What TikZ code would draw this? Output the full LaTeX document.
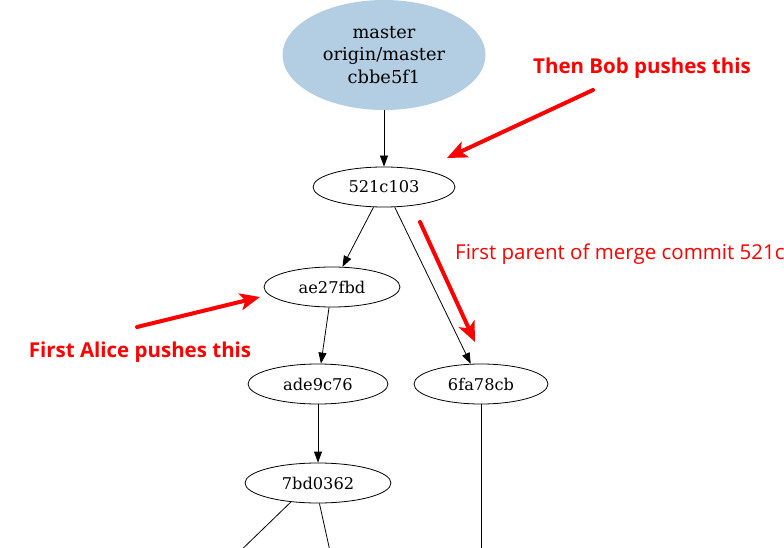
\documentclass[tikz,border=0pt]{standalone}
\usepackage{fontspec}
\setmainfont{DejaVu Serif}
\newfontfamily\notefont{Open Sans}
\usetikzlibrary{arrows.meta,shapes.geometric}
\definecolor{headblue}{HTML}{B3CDE3}
\definecolor{notered}{HTML}{FF0000}
\tikzset{
  commit/.style={draw=black, line width=0.8pt, ellipse, minimum width=142pt, minimum height=40pt, inner sep=0pt, font=\fontsize{16.2}{19}\selectfont},
  edge/.style={draw=black, line width=0.8pt, -{Triangle[length=11pt,width=8pt]}},
  plain/.style={draw=black, line width=0.8pt},
  redarrow/.style={draw=notered, line width=4pt, -{Stealth[length=20pt,width=17pt,inset=5pt]}, line cap=round},
  notebold/.style={text=notered, font=\notefont\bfseries\fontsize{20.5}{24}\selectfont, inner sep=0pt},
  note/.style={text=notered, font=\notefont\fontsize{20.5}{24}\selectfont, inner sep=0pt, anchor=west}
}
\begin{document}
\begin{tikzpicture}[x=1pt,y=-1pt]
\useasboundingbox (0,0) rectangle (784,548);
\clip (0,0) rectangle (784,548);
\node[ellipse, fill=headblue, minimum width=203pt, minimum height=110pt, inner sep=0pt, align=center, font=\fontsize{17.8}{22.5}\selectfont] (master) at (384,55) {master\\origin/master\\cbbe5f1};
\node[commit] (c521) at (384,187) {521c103};
\node[commit, minimum width=136pt] (cae2) at (332,287) {ae27fbd};
\node[commit, minimum width=140pt] (cade) at (318,384) {ade9c76};
\node[commit, minimum width=134pt] (c6fa) at (481,384) {6fa78cb};
\node[commit, minimum width=146pt] (c7bd) at (318,483) {7bd0362};
\coordinate (outA) at (233,558);
\coordinate (outB) at (331.5,558);
\coordinate (outC) at (481,558);

\draw[edge] (master) -- (c521);
\draw[edge] (c521) -- (cae2);
\draw[edge] (c521.-62) -- (c6fa.117);
\draw[edge] (cae2) -- (cade);
\draw[edge] (cade) -- (c7bd);
\draw[plain] (c7bd.-145) -- (outA);
\draw[plain] (c7bd.-86) -- (outB);
\draw[plain] (c6fa) -- (outC);

\coordinate (bobS) at (593,90);
\coordinate (bobE) at (447,158);
\coordinate (aliS) at (137,327);
\coordinate (aliE) at (260,297);
\coordinate (fpS) at (420,222);
\coordinate (fpE) at (475,342);
\draw[redarrow] (bobS) -- (bobE);
\draw[redarrow] (aliS) -- (aliE);
\draw[redarrow] (fpS) -- (fpE);

\node[notebold] (bobT) at (642,68) {Then Bob pushes this};
\node[notebold] (aliT) at (140,352) {First Alice pushes this};
\node[note] (fpT) at (455,254) {First parent of merge commit 521c103};
\end{tikzpicture}
\end{document}
